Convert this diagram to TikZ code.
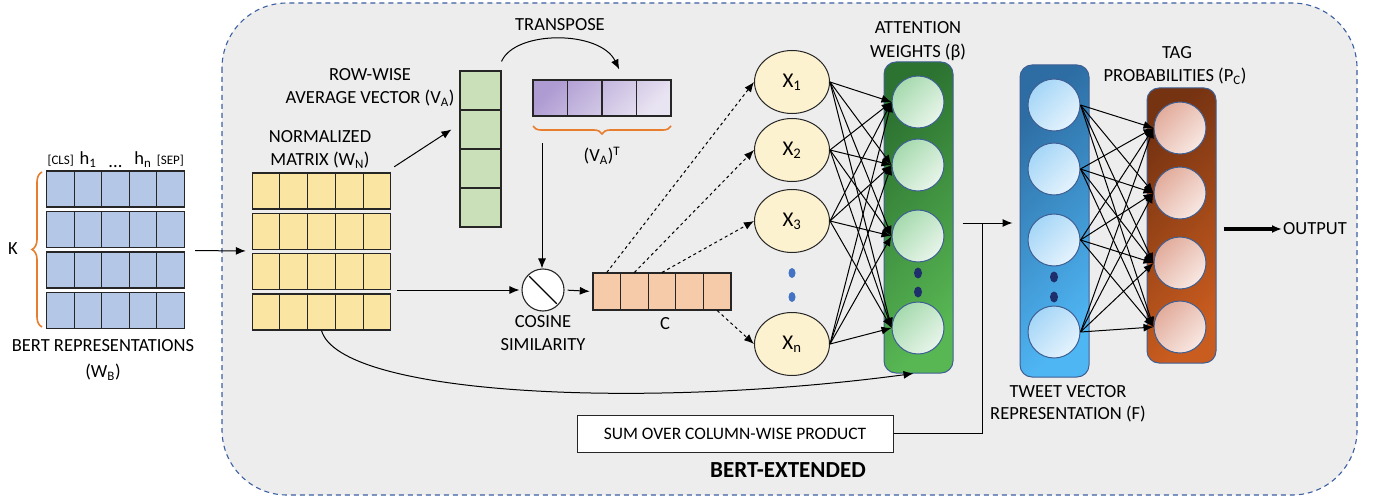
\documentclass[tikz,border=0pt]{standalone}
\usepackage{fontspec}
\setmainfont{Carlito}
\usetikzlibrary{arrows.meta,positioning,decorations.pathreplacing,shapes.geometric}

\definecolor{bertblue}{HTML}{B4C7E7}
\definecolor{normyel}{HTML}{FAE5A2}
\definecolor{avggreen}{HTML}{C9E0B8}
\definecolor{purpdark}{HTML}{AE9BD2}
\definecolor{purplight}{HTML}{E9E4F2}
\definecolor{cpeach}{HTML}{F5CBAA}
\definecolor{xfill}{HTML}{FDF2D0}
\definecolor{bracecol}{HTML}{E87D2E}
\definecolor{dashblue}{HTML}{3D5FA3}
\definecolor{bgray}{HTML}{EDEDED}
\definecolor{nodeedge}{HTML}{3E5F94}
\definecolor{attdark}{HTML}{2C7231}
\definecolor{attlight}{HTML}{58B653}
\definecolor{grnlight}{HTML}{A6DAAE}
\definecolor{grnpale}{HTML}{E8F5EA}
\definecolor{twdark}{HTML}{2D6DA3}
\definecolor{twlight}{HTML}{4FB6F4}
\definecolor{blulight}{HTML}{A5D6F7}
\definecolor{blupale}{HTML}{E5F3FD}
\definecolor{tagdark}{HTML}{763312}
\definecolor{taglight}{HTML}{C95C1F}
\definecolor{pinkdark}{HTML}{E2AC9C}
\definecolor{pinkpale}{HTML}{F8E8E2}
\definecolor{dotblue}{HTML}{4472C4}
\definecolor{dotnavy}{HTML}{1F2F6B}

\begin{document}
\begin{tikzpicture}[x=1pt,y=-1pt,>={Latex[length=10pt,width=8pt]},
  lbl/.style={font=\fontsize{18.5}{20}\selectfont, inner sep=1pt},
  cell/.style={draw=black!85, line width=1.1pt, minimum width=27.6pt, minimum height=36pt, inner sep=0pt},
  neuron/.style={circle, draw=nodeedge, line width=1pt, minimum size=52pt, inner sep=0pt},
  layer/.style={rounded corners=12pt, draw=nodeedge, line width=1pt, minimum width=69pt, inner sep=0pt},
  xnode/.style={ellipse, draw=black!85, fill=xfill, line width=1pt, minimum width=75pt, minimum height=63pt, font=\fontsize{21}{22}\selectfont},
  dot/.style={ellipse, minimum width=7pt, minimum height=10pt, inner sep=0pt},
  wire/.style={->, line width=1pt}]
\useasboundingbox (0,0) rectangle (1380,500);
\fill[white] (0,0) rectangle (1380,500);

% BERT-extended frame
\draw[dashblue, fill=bgray, line width=1.1pt, dash pattern=on 5pt off 4pt, rounded corners=65pt] (222,3) rectangle (1357,495);

% BERT representations
\foreach \r/\y in {1/189,2/229.5,3/270,4/310.5}
  \foreach \c in {1,...,5}
    \node[cell, fill=bertblue] (wb\r\c) at (33.3+27.4*\c,\y) {};
\node[minimum width=137pt, minimum height=158pt, inner sep=0pt] (wb) at (115.5,250) {};
\node[above=3pt of wb11, font=\fontsize{13}{14}\selectfont, inner sep=1pt] (cls) {[CLS]};
\node[above=2pt of wb12, lbl] (h1) {h\textsubscript{1}};
\node[above=2pt of wb13, lbl] (hdots) {...};
\node[above=2pt of wb14, lbl] (hn) {h\textsubscript{n}};
\node[above=3pt of wb15, font=\fontsize{13}{14}\selectfont, inner sep=1pt] (sep) {[SEP]};
\draw[bracecol, line width=1.6pt, decorate, decoration={brace, amplitude=10pt}] (42,327) -- (42,172);
\node[lbl] (k) at (13,249) {K};
\node[lbl] (wbt) at (103,346) {BERT REPRESENTATIONS};
\node[lbl] (wbs) at (103,372) {(W\textsubscript{B})};

% normalized matrix
\foreach \r/\y in {1/191,2/231.5,3/271.5,4/312}
  \foreach \c in {1,...,5}
    \node[cell, fill=normyel] (wn\r\c) at (238.1+27.8*\c,\y) {};
\node[minimum width=139pt, minimum height=157pt, inner sep=0pt] (wn) at (321.5,251.5) {};
\node[lbl] (wnt) at (320,137) {NORMALIZED};
\node[lbl] (wns) at (320,160) {MATRIX (W\textsubscript{N})};
\draw[wire, shorten <=11pt, shorten >=6pt] (wb) -- (wn);

% row-wise average vector
\foreach \r/\y in {1/90.5,2/129.5,3/168.5,4/207.5}
  \node[cell, fill=avggreen, minimum width=41pt, minimum height=39pt] (va\r) at (480.5,\y) {};
\node[lbl] (vat1t) at (370,75) {ROW-WISE};
\node[lbl] (vas) at (370,98) {AVERAGE VECTOR (V\textsubscript{A})};
\draw[wire] ([shift={(3pt,6pt)}]wn.north east) -- ([xshift=-8pt]va2.west);

% transpose
\node[minimum width=138pt, minimum height=36pt, inner sep=0pt, left color=purpdark, right color=purplight, shading angle=45] (vat) at (602,98) {};
\foreach \c in {1,...,4}
  \node[cell, minimum width=34.5pt] (vat\c) at (515.75+34.5*\c,98) {};
\node[lbl] (trans) at (560,25) {TRANSPOSE};
\draw[wire] ([yshift=9pt]va1.north east) .. controls (515,30) and (600,30) .. ([yshift=10pt]vat3.north);
\draw[bracecol, line width=1.6pt, decorate, decoration={brace, amplitude=8pt}] (671,126) -- (533,126);
\node[lbl] (vatl) at (602,156) {(V\textsubscript{A})\textsuperscript{T}};

% cosine similarity
\node[circle, draw=black!85, fill=white, line width=1.1pt, minimum size=42pt, inner sep=0pt] (cos) at (543,290) {};
\draw[line width=1.1pt, shorten <=2pt, shorten >=2pt] (cos.north west) -- (cos.south east);
\node[lbl] (cost) at (543,322) {COSINE};
\node[lbl] (coss) at (543,345) {SIMILARITY};
\coordinate (tb) at (542,143);
\draw[wire] (tb) -- (tb |- cos.north);
\draw[wire, shorten <=6pt, shorten >=2pt] (wn.east |- cos.west) -- (cos.west);

% C vector
\foreach \c in {1,...,5}
  \node[cell, fill=cpeach, minimum height=37pt] (c\c) at (579.2+27.6*\c,291.5) {};
\node[minimum width=138pt, minimum height=37pt, inner sep=0pt] (c) at (662,291.5) {};
\node[lbl] (cl) at (665,324) {C};
\draw[wire, shorten <=3pt, shorten >=3pt] (cos.east) -- (c.west);

% X nodes
\node[xnode] (x1) at (792,82) {X\textsubscript{1}};
\node[xnode] (x2) at (792,150) {X\textsubscript{2}};
\node[xnode] (x3) at (792,221) {X\textsubscript{3}};
\node[xnode] (xn) at (792,344) {X\textsubscript{n}};
\node[dot, fill=dotblue] (xd1) at (792,273) {};
\node[dot, fill=dotblue] (xd2) at (792,297) {};
\draw[wire, dashed] (c1.north) -- (x1.west);
\draw[wire, dashed] (c2.north) -- (x2.west);
\draw[wire, dashed] (c3.north) -- (x3.west);
\draw[wire, dashed] (c5.south) -- (xn.west);

% attention weights
\node[layer, minimum height=311pt, left color=attdark, right color=attlight, shading angle=45] (att) at (918.5,217.5) {};
\foreach \i/\y in {1/102,2/165,3/236,4/328}
  \node[neuron, left color=grnlight, right color=grnpale, shading angle=45] (a\i) at (918,\y) {};
\node[dot, fill=dotnavy, minimum width=8pt, minimum height=11pt] (ad1) at (918,273) {};
\node[dot, fill=dotnavy, minimum width=8pt, minimum height=11pt] (ad2) at (918,292) {};
\node[lbl] (attt) at (918,28) {ATTENTION};
\node[lbl] (atts) at (918,52) {WEIGHTS (β)};
\foreach \s in {x1,x2,x3,xn}
  \foreach \i in {1,...,4}
    \draw[wire] (\s.east) -- (a\i.west);
\draw[wire] (wn43.south) .. controls (340,395) and (640,410) .. ([xshift=-5pt]att.south);

% tweet vector
\node[layer, minimum height=312pt, left color=twdark, right color=twlight, shading angle=45] (tw) at (1054.5,221) {};
\foreach \i/\y in {1/105,2/169,3/240,4/332}
  \node[neuron, left color=blulight, right color=blupale, shading angle=45] (f\i) at (1054,\y) {};
\node[dot, fill=dotnavy, minimum width=8pt, minimum height=11pt] (fd1) at (1054,277) {};
\node[dot, fill=dotnavy, minimum width=8pt, minimum height=11pt] (fd2) at (1054,297) {};
\node[lbl] (twt) at (1068,392) {TWEET VECTOR};
\node[lbl] (tws) at (1068,414) {REPRESENTATION (F)};
\coordinate (jn) at (982,223);
\draw[wire, shorten <=9pt, shorten >=7pt] (att.east |- jn) -- (tw.west |- jn);

% sum box
\node[draw=black!85, fill=white, line width=1pt, minimum width=316pt, minimum height=37pt, font=\fontsize{17.5}{19}\selectfont] (sum) at (735,433.5) {SUM OVER COLUMN-WISE PRODUCT};
\draw[line width=1pt] (sum.east) -| (jn);
\node[font=\bfseries\fontsize{23}{25}\selectfont] (ext) at (788,470) {BERT-EXTENDED};

% tag probabilities
\node[layer, minimum height=275pt, left color=tagdark, right color=taglight, shading angle=45] (tag) at (1181.5,225.5) {};
\foreach \i/\y in {1/128,2/193,3/263,4/327}
  \node[neuron, left color=pinkdark, right color=pinkpale, shading angle=45] (p\i) at (1180,\y) {};
\node[lbl] (tagt) at (1177,53) {TAG};
\node[lbl] (tags) at (1175,76) {PROBABILITIES (P\textsubscript{C})};
\foreach \s in {1,...,4}
  \foreach \i in {1,...,4}
    \draw[wire] (f\s.east) -- (p\i.west);

% output
\node[lbl] (out) at (1315,229) {OUTPUT};
\draw[->, line width=3.5pt, shorten <=7pt] (tag.east |- out) -- (out.west);
\end{tikzpicture}
\end{document}
